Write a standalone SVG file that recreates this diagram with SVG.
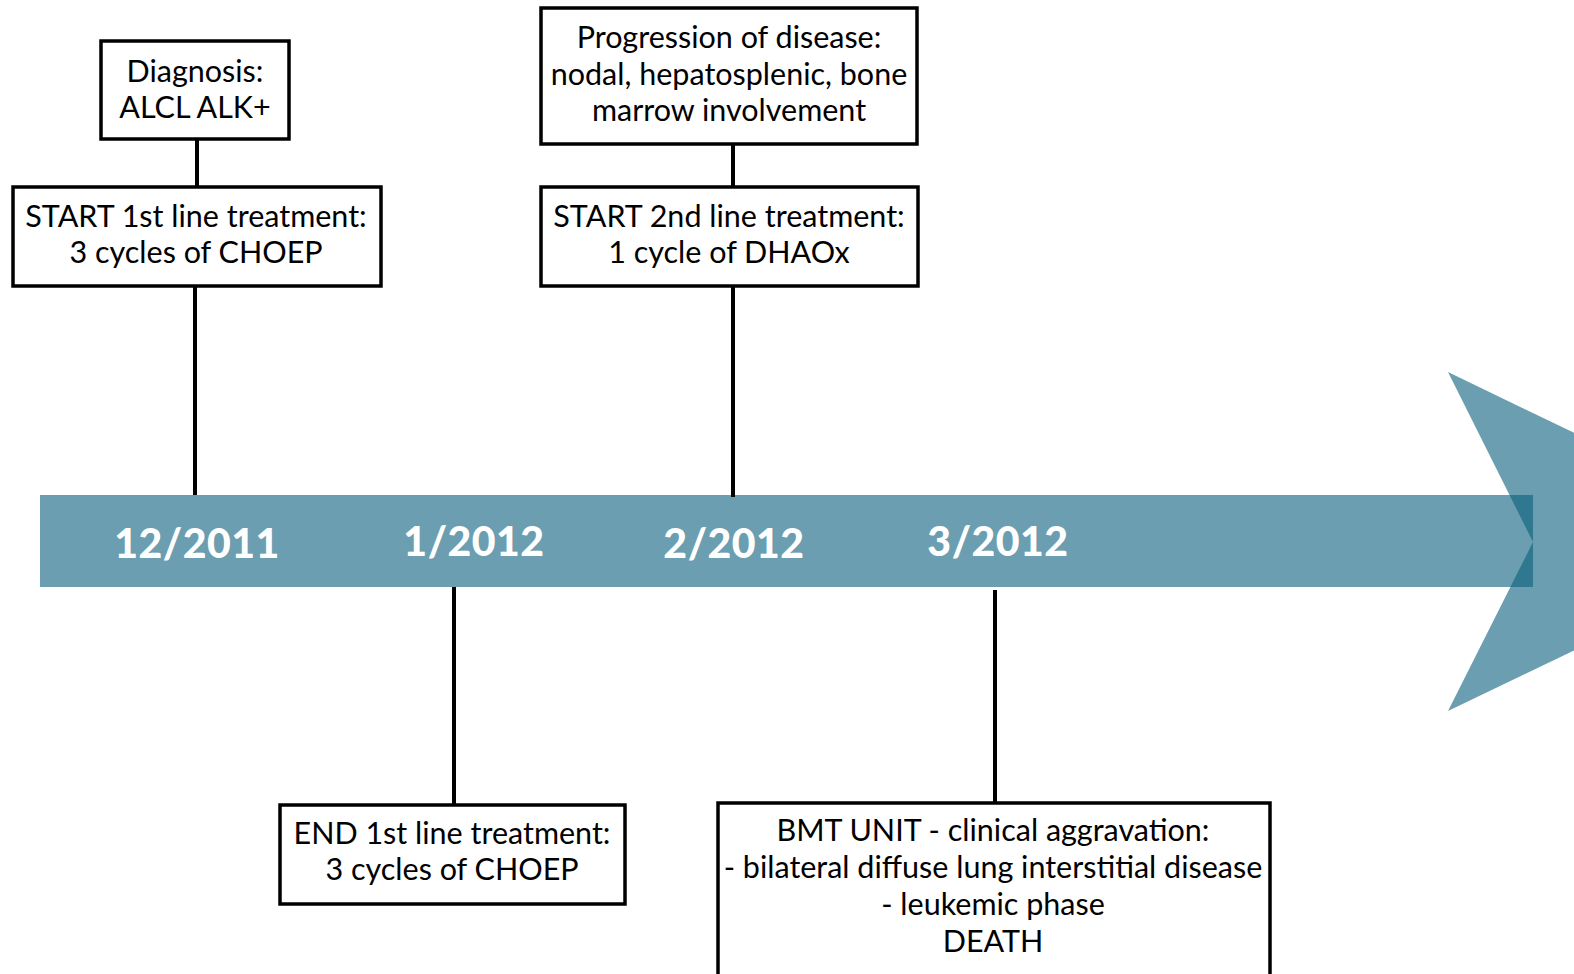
<svg xmlns="http://www.w3.org/2000/svg" width="1574" height="974" viewBox="0 0 1574 974">
<style>
.box{fill:#fff;stroke:#000;stroke-width:3.5}
.t{font-family:Lato,"Open Sans","Liberation Sans",sans-serif;font-size:30.5px;fill:#000;text-anchor:middle}
.d{font-family:Lato,"Liberation Sans",sans-serif;font-size:41px;font-weight:900;fill:#fff;text-anchor:middle;letter-spacing:0.5px}
.c{stroke:#000;stroke-width:4;fill:none}
.tl{fill:#085d7c;fill-opacity:0.6}
</style>
<rect width="1574" height="974" fill="#fff"/>
<g id="timeline">
<rect class="tl" x="40" y="495" width="1493" height="92"/>
<polygon class="tl" points="1448,372 1800,542 1448,711 1533,542"/>
<text class="d" x="197" y="558">12/2011</text>
<text class="d" x="474" y="556">1/2012</text>
<text class="d" x="734" y="558">2/2012</text>
<text class="d" x="998" y="556">3/2012</text>
</g>
<g id="connectors">
<line class="c" x1="197" y1="139" x2="197" y2="187"/>
<line class="c" x1="195" y1="286" x2="195" y2="495"/>
<line class="c" x1="733" y1="144" x2="733" y2="187"/>
<line class="c" x1="733" y1="286" x2="733" y2="497"/>
<line class="c" x1="454" y1="587" x2="454" y2="805"/>
<line class="c" x1="995" y1="590" x2="995" y2="803"/>
</g>
<g id="diagnosis">
<rect class="box" x="101" y="41" width="188" height="98"/>
<text class="t" x="195" y="82">Diagnosis:</text>
<text class="t" x="195" y="118">ALCL ALK+</text>
</g>
<g id="start1">
<rect class="box" x="13" y="187" width="368" height="99"/>
<text class="t" x="196" y="227">START 1st line treatment:</text>
<text class="t" x="196" y="263">3 cycles of CHOEP</text>
</g>
<g id="progression">
<rect class="box" x="541" y="8" width="376" height="136"/>
<text class="t" x="729" y="48">Progression of disease:</text>
<text class="t" x="729" y="85">nodal, hepatosplenic, bone</text>
<text class="t" x="729" y="121">marrow involvement</text>
</g>
<g id="start2">
<rect class="box" x="541" y="187" width="377" height="99"/>
<text class="t" x="729" y="227">START 2nd line treatment:</text>
<text class="t" x="729" y="263">1 cycle of DHAOx</text>
</g>
<g id="end1">
<rect class="box" x="280" y="805" width="345" height="99"/>
<text class="t" x="452" y="844">END 1st line treatment:</text>
<text class="t" x="452" y="880">3 cycles of CHOEP</text>
</g>
<g id="bmt">
<rect class="box" x="718" y="803" width="552" height="190"/>
<text class="t" x="993" y="841">BMT UNIT - clinical aggravation:</text>
<text class="t" x="993" y="878">- bilateral diffuse lung interstitial disease</text>
<text class="t" x="993" y="915">- leukemic phase</text>
<text class="t" x="993" y="952">DEATH</text>
</g>
</svg>
